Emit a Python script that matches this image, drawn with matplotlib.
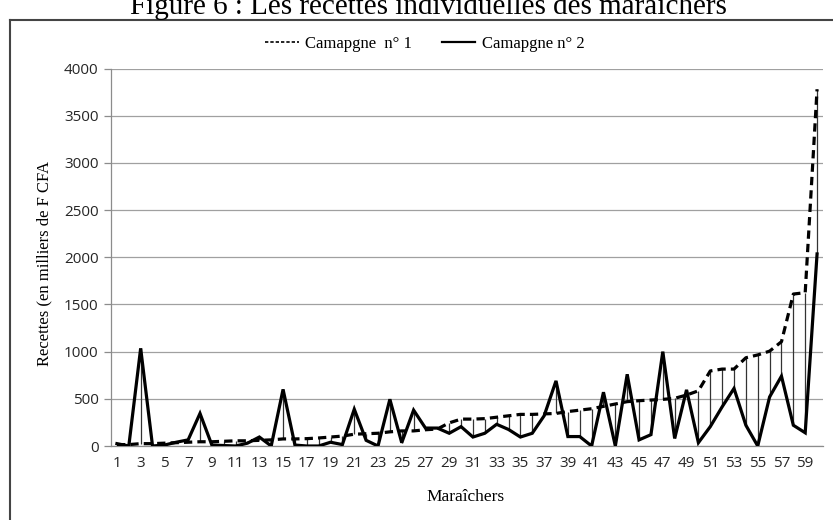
import matplotlib
matplotlib.use("Agg")
import matplotlib.pyplot as plt
from matplotlib.lines import Line2D
import numpy as np

# Data
maraichers = list(range(1, 61))
campagne1 = [15, 15, 25, 25, 30, 35, 40, 45, 45, 50,
             55, 55, 60, 65, 75, 75, 78, 85, 95, 105,
             125, 130, 135, 150, 160, 160, 172, 180, 245, 285,
             285, 290, 305, 320, 335, 335, 340, 345, 365, 380,
             395, 420, 445, 470, 480, 487, 494, 505, 540, 585,
             795, 815, 815, 935, 965, 1005, 1105, 1610, 1625, 3780]
campagne2 = [25, 0, 1035, 0, 10, 40, 65, 345, 10, 5,
             0, 30, 95, 0, 600, 10, 0, 0, 40, 15,
             390, 60, 0, 495, 35, 380, 190, 190, 135, 205,
             95, 135, 230, 175, 95, 135, 320, 690, 100, 100,
             0, 570, 0, 760, 65, 120, 1000, 80, 595, 35,
             205, 415, 610, 220, 0, 520, 740, 220, 140, 2035]
xtick_labels = [str(i) for i in range(1, 61, 2)]
yticks = [0, 500, 1000, 1500, 2000, 2500, 3000, 3500, 4000]

W, H = 833, 520
fig = plt.figure(figsize=(W / 100, H / 100), dpi=100)
ax = fig.add_axes([111 / W, 1 - 446 / H, (823 - 111) / W, (446 - 68.5) / H])

x = np.array(maraichers)
c1 = np.array(campagne1)
c2 = np.array(campagne2)

# high-low lines
ax.vlines(x, np.minimum(c1, c2), np.maximum(c1, c2), colors='#333333', linewidth=0.9, zorder=2)
ax.plot(x, c1, color='black', linewidth=2.3, linestyle=(0, (2.6, 1.6)), zorder=3)
ax.plot(x, c2, color='black', linewidth=2.3, zorder=4, solid_joinstyle='miter')

ax.set_xlim(0.5, 60.5)
ax.set_ylim(0, 4000)
ax.set_yticks(yticks)
ax.set_yticklabels([str(v) for v in yticks])
ax.set_xticks(list(range(1, 61, 2)))
ax.set_xticklabels(xtick_labels)
ax.yaxis.grid(True, color='#a0a0a0', linewidth=0.9)
ax.set_axisbelow(True)
for s in ['top', 'right']:
    ax.spines[s].set_visible(False)
for s in ['left', 'bottom']:
    ax.spines[s].set_color('#8c8c8c')
    ax.spines[s].set_linewidth(0.9)
ax.tick_params(axis='y', length=5, width=0.9, color='#8c8c8c', pad=4,
               labelsize=11, labelcolor='#262626')
ax.tick_params(axis='x', length=0, pad=7, labelsize=11, labelcolor='#262626')
for lab in ax.get_xticklabels() + ax.get_yticklabels():
    lab.set_fontfamily('Open Sans')

fig.text(44 / W, 1 - 263 / H, 'Recettes (en milliers de F CFA', rotation=90,
         fontfamily='Liberation Serif', fontsize=12, ha='center', va='center')
fig.text(466 / W, 1 - 497 / H, 'Maraîchers', fontfamily='Liberation Serif', fontsize=12.5,
         ha='center', va='center')

# legend
handles = [Line2D([], [], color='black', linewidth=1.2, linestyle=(0, (2, 1.2))),
           Line2D([], [], color='black', linewidth=1.6)]
fig.legend(handles, ['Camapgne  n° 1', 'Camapgne n° 2'], loc='center',
           bbox_to_anchor=(425 / W, 1 - 44 / H), ncol=2, frameon=False,
           prop={'family': 'Liberation Serif', 'size': 12}, handlelength=2.0,
           handletextpad=0.4, columnspacing=1.8)

# title (partially clipped at top, as in the source)
fig.text(428 / W, 1 - 14 / H, 'Figure 6 : Les recettes individuelles des maraîchers',
         fontfamily='Liberation Serif', fontsize=21, ha='center', va='baseline')

# frame lines (top and left)
fig.add_artist(Line2D([9.5 / W, 1.0], [1 - 20 / H, 1 - 20 / H], color='#444444', linewidth=1.5,
                      transform=fig.transFigure))
fig.add_artist(Line2D([9.5 / W, 9.5 / W], [0, 1 - 20 / H], color='#444444', linewidth=1.5,
                      transform=fig.transFigure))

fig.savefig('out.png', dpi=100)
